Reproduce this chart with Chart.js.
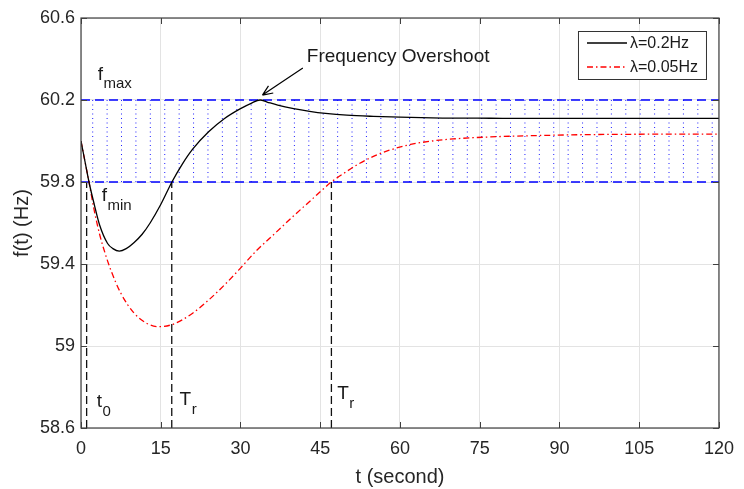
<!DOCTYPE html>
<html>
<head>
<meta charset="utf-8">
<title>Frequency Response</title>
<script src="https://cdn.jsdelivr.net/npm/chart.js"></script>
<style>
  body { margin: 0; background: #ffffff; }
  canvas { display: block; }
</style>
</head>
<body>
<canvas id="freqChart" width="744" height="489"></canvas>
<script>
const xTicks = [0, 15, 30, 45, 60, 75, 90, 105, 120];
const yTicks = [58.6, 59, 59.4, 59.8, 60.2, 60.6];

// lambda = 0.2 Hz
const fastTimes = [0, 0.75, 1.5, 2.5, 3.5, 5, 6, 7.2, 8.5, 10, 11.5, 13, 15, 17.1, 19, 21, 24, 27, 30, 32, 33.7, 35, 37, 40, 43, 46, 50, 55, 60, 68, 77, 90, 105, 120];
const fastFreq  = [60.0, 59.9, 59.8, 59.69, 59.59, 59.5, 59.475, 59.463, 59.475, 59.505, 59.545, 59.6, 59.69, 59.8, 59.885, 59.96, 60.045, 60.11, 60.158, 60.184, 60.2, 60.19, 60.175, 60.158, 60.145, 60.135, 60.126, 60.12, 60.116, 60.112, 60.111, 60.11, 60.11, 60.11];

// lambda = 0.05 Hz
const slowTimes = [0, 0.75, 1.5, 2.5, 3.5, 4.5, 5.6, 7.5, 10, 12.4, 14.6, 17.4, 21, 24, 27, 30, 33, 36.5, 40, 43, 47.1, 50, 52, 55, 58, 62, 66, 70, 77, 85, 95, 105, 120];
const slowFreq  = [60.0, 59.9, 59.8, 59.66, 59.545, 59.455, 59.371, 59.257, 59.16, 59.11, 59.094, 59.107, 59.16, 59.224, 59.298, 59.38, 59.465, 59.55, 59.635, 59.705, 59.8, 59.852, 59.885, 59.925, 59.955, 59.983, 60.0, 60.01, 60.02, 60.026, 60.031, 60.033, 60.034];

const seriesLabels = ['\u03bb=0.2Hz', '\u03bb=0.05Hz'];
const fMax = 60.2;
const fMin = 59.8;
const markerTimes = [1.06, 17.07, 47.1]; // t0, Tr, Tr
const hatchTimes = [2.2, 4.91, 7.62, 10.33, 13.04, 15.75, 18.46, 21.17, 23.88, 26.59, 29.3, 32.01, 34.72, 37.43, 40.14, 42.85, 45.56, 48.27, 50.98, 53.69, 56.4, 59.11, 61.82, 64.53, 67.24, 69.95, 72.66, 75.37, 78.08, 80.79, 83.5, 86.21, 88.92, 91.63, 94.34, 97.05, 99.76, 102.47, 105.18, 107.89, 110.6, 113.31, 116.02, 118.73];

const FONT = '"Liberation Sans", Arial, Helvetica, sans-serif';
const AXIS_COLOR = '#404040';

const toPoints = (xs, ys) => xs.map((x, i) => ({ x: x, y: ys[i] }));

const curveSets = [
  {
    label: seriesLabels[0],
    data: toPoints(fastTimes, fastFreq),
    borderColor: '#000000', borderWidth: 1.3,
    cubicInterpolationMode: 'monotone', order: 0
  },
  {
    label: seriesLabels[1],
    data: toPoints(slowTimes, slowFreq),
    borderColor: '#ff0000', borderWidth: 1.3, borderDash: [6, 3, 1.5, 3],
    cubicInterpolationMode: 'monotone', order: 1
  }
];

const limitSets = [fMax, fMin].map(v => ({
  label: 'limit',
  data: [{ x: 0, y: v }, { x: 120, y: v }],
  borderColor: '#0000ff', borderWidth: 1.5, borderDash: [9, 5], order: 3
}));

const markerSets = markerTimes.map(t => ({
  label: 'marker',
  data: [{ x: t, y: 58.6 }, { x: t, y: fMin }],
  borderColor: '#111111', borderWidth: 1.3, borderDash: [8, 4], order: 4
}));

const hatchSets = hatchTimes.map(t => ({
  label: 'hatch',
  data: [{ x: t, y: fMin }, { x: t, y: fMax }],
  borderColor: '#1f1fff', borderWidth: 1, borderDash: [1, 3.5], order: 6
}));

// text notes, positioned in data units
const notes = [
  { t: 3.15, v: 60.298, main: 'f', sub: 'max' },
  { t: 3.9, v: 59.707, main: 'f', sub: 'min' },
  { t: 2.97, v: 58.702, main: 't', sub: '0' },
  { t: 18.55, v: 58.712, main: 'T', sub: 'r' },
  { t: 48.2, v: 58.741, main: 'T', sub: 'r' }
];

const decorPlugin = {
  id: 'decor',
  afterDatasetsDraw(chart) {
    const ctx = chart.ctx;
    const xs = chart.scales.x, ys = chart.scales.y;
    const X = t => xs.getPixelForValue(t);
    const Y = v => ys.getPixelForValue(v);
    const a = chart.chartArea;

    ctx.save();
    // axes box
    ctx.strokeStyle = AXIS_COLOR;
    ctx.lineWidth = 1.2;
    ctx.strokeRect(a.left, a.top, a.right - a.left, a.bottom - a.top);

    // inner ticks on all four sides
    ctx.lineWidth = 1;
    ctx.beginPath();
    xTicks.forEach(t => {
      const px = Math.round(X(t)) + 0.5;
      ctx.moveTo(px, a.bottom); ctx.lineTo(px, a.bottom - 6);
      ctx.moveTo(px, a.top); ctx.lineTo(px, a.top + 6);
    });
    yTicks.forEach(v => {
      const py = Math.round(Y(v)) + 0.5;
      ctx.moveTo(a.left, py); ctx.lineTo(a.left + 6, py);
      ctx.moveTo(a.right, py); ctx.lineTo(a.right - 6, py);
    });
    ctx.stroke();

    // notes with subscripts
    ctx.fillStyle = '#1a1a1a';
    ctx.textBaseline = 'alphabetic';
    ctx.textAlign = 'left';
    notes.forEach(n => {
      const px = X(n.t), py = Y(n.v);
      ctx.font = '19px ' + FONT;
      ctx.fillText(n.main, px, py);
      const w = ctx.measureText(n.main).width;
      ctx.font = '15px ' + FONT;
      ctx.fillText(n.sub, px + w + 0.5, py + 8.5);
    });

    // overshoot label and arrow
    ctx.font = '19px ' + FONT;
    ctx.fillText('Frequency Overshoot', X(42.47), Y(60.385));
    const x1 = X(41.73), y1 = Y(60.356);
    const x2 = X(34.13), y2 = Y(60.224);
    ctx.strokeStyle = '#000000';
    ctx.lineWidth = 1.2;
    ctx.beginPath();
    ctx.moveTo(x1, y1); ctx.lineTo(x2, y2);
    const ang = Math.atan2(y2 - y1, x2 - x1);
    const head = 11;
    ctx.moveTo(x2, y2);
    ctx.lineTo(x2 - head * Math.cos(ang - 0.4), y2 - head * Math.sin(ang - 0.4));
    ctx.moveTo(x2, y2);
    ctx.lineTo(x2 - head * Math.cos(ang + 0.4), y2 - head * Math.sin(ang + 0.4));
    ctx.stroke();

    // legend box in the top right corner
    const lw = 128, lh = 48;
    const lx = a.right - 13 - lw, ly = a.top + 13;
    ctx.fillStyle = '#ffffff';
    ctx.fillRect(lx, ly, lw, lh);
    ctx.strokeStyle = '#333333';
    ctx.lineWidth = 1;
    ctx.strokeRect(lx + 0.5, ly + 0.5, lw, lh);
    curveSets.forEach((ds, i) => {
      const yy = ly + 12 + i * 24;
      ctx.strokeStyle = ds.borderColor;
      ctx.lineWidth = ds.borderWidth;
      ctx.setLineDash(ds.borderDash || []);
      ctx.beginPath();
      ctx.moveTo(lx + 9, yy); ctx.lineTo(lx + 49, yy);
      ctx.stroke();
      ctx.setLineDash([]);
      ctx.fillStyle = '#1a1a1a';
      ctx.font = '16px ' + FONT;
      ctx.textBaseline = 'middle';
      ctx.fillText(ds.label, lx + 52, yy + 1);
    });
    ctx.restore();
  }
};

new Chart(document.getElementById('freqChart').getContext('2d'), {
  type: 'line',
  data: { datasets: [...curveSets, ...limitSets, ...markerSets, ...hatchSets] },
  options: {
    responsive: false,
    animation: false,
    devicePixelRatio: 1,
    layout: { padding: { left: 0, top: 18, right: 16, bottom: 0 } },
    elements: { point: { radius: 0 }, line: { tension: 0 } },
    plugins: { legend: { display: false }, tooltip: { enabled: false } },
    scales: {
      x: {
        type: 'linear', min: 0, max: 120,
        afterBuildTicks: s => { s.ticks = xTicks.map(v => ({ value: v })); },
        afterFit: s => { s.height = 61; },
        grid: { color: '#e3e3e3', lineWidth: 1, drawTicks: false },
        border: { display: false },
        ticks: {
          padding: 10, color: '#262626', font: { family: FONT, size: 18 },
          maxRotation: 0, autoSkip: false
        },
        title: {
          display: true, text: 't (second)', color: '#262626',
          font: { family: FONT, size: 20 }, padding: { top: 0, bottom: 0 }
        }
      },
      y: {
        type: 'linear', min: 58.6, max: 60.6,
        afterBuildTicks: s => { s.ticks = yTicks.map(v => ({ value: v })); },
        afterFit: s => { s.width = 81; },
        grid: { color: '#e3e3e3', lineWidth: 1, drawTicks: false },
        border: { display: false },
        ticks: {
          padding: 6, color: '#262626', font: { family: FONT, size: 18 },
          callback: v => String(Math.round(v * 10) / 10)
        },
        title: {
          display: true, text: 'f(t) (Hz)', color: '#262626',
          font: { family: FONT, size: 20 }, padding: { top: 10, bottom: 0 }
        }
      }
    }
  },
  plugins: [decorPlugin]
});
</script>
</body>
</html>
